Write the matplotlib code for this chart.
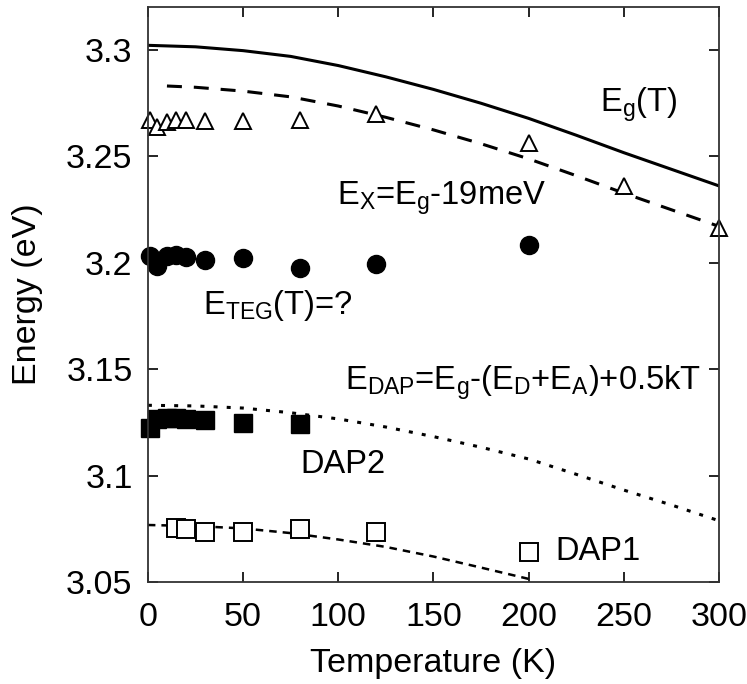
import matplotlib
matplotlib.use("Agg")
import matplotlib.pyplot as plt

plt.rcParams["font.family"] = ["Liberation Sans", "DejaVu Sans"]
plt.rcParams["mathtext.fontset"] = "custom"
plt.rcParams["mathtext.rm"] = "Liberation Sans"
plt.rcParams["mathtext.it"] = "Liberation Sans"
plt.rcParams["mathtext.default"] = "regular"

# measured points
t_x = [1, 5, 10, 15, 20, 30, 50, 80, 120, 200, 250, 300]
e_x = [3.2668, 3.2635, 3.266, 3.2668, 3.2668, 3.2665, 3.2665, 3.2668, 3.2696, 3.256, 3.236, 3.216]

t_teg = [1, 5, 10, 15, 20, 30, 50, 80, 120, 200]
e_teg = [3.2033, 3.1985, 3.203, 3.2035, 3.2028, 3.2012, 3.2022, 3.1975, 3.1993, 3.2082]

t_dap2 = [1, 5, 10, 15, 20, 30, 50, 80]
e_dap2 = [3.1225, 3.1265, 3.127, 3.127, 3.1265, 3.126, 3.1248, 3.1243]

t_dap1 = [15, 20, 30, 50, 80, 120, 200]
e_dap1 = [3.0752, 3.0748, 3.0735, 3.0735, 3.0748, 3.0735, 3.0643]

# model curves
t_line = [0, 25, 50, 75, 100, 125, 150, 175, 200, 225, 250, 275, 300]
eg_line = [3.302, 3.3013, 3.2995, 3.2968, 3.2925, 3.2872, 3.2813, 3.2748, 3.2677, 3.2598, 3.2516, 3.2438, 3.236]
edap2_line = [3.133, 3.1327, 3.1317, 3.1295, 3.1266, 3.1228, 3.1183, 3.1133, 3.1078, 3.1006, 3.0932, 3.0862, 3.0788]

t_ex_line = [10, 25, 50, 75, 100, 125, 150, 175, 200, 225, 250, 275, 300]
ex_line = [3.2829, 3.2823, 3.2805, 3.2778, 3.2735, 3.2682, 3.2623, 3.2558, 3.2487, 3.2408, 3.2326, 3.2248, 3.217]

t_dap1_line = [0, 25, 50, 75, 100, 125, 150, 175, 200]
edap1_line = [3.0768, 3.0763, 3.0752, 3.073, 3.070, 3.0665, 3.062, 3.0568, 3.0515]

fig = plt.figure(figsize=(7.47, 6.84), dpi=100)
ax = fig.add_axes([0.198, 0.149, 0.7645, 0.8408])

ax.plot(t_line, eg_line, color="black", lw=2.2)
ax.plot(t_ex_line, ex_line, color="black", lw=2.2, dashes=(4.9, 3.9))
ax.plot(t_line, edap2_line, color="black", lw=2.2, dashes=(1.3, 3.0))
ax.plot(t_dap1_line, edap1_line, color="black", lw=1.8, dashes=(3.0, 2.4))

ax.plot(t_x, e_x, ls="none", marker="^", ms=11.5, mfc="white", mec="black", mew=1.4, clip_on=False)
ax.plot(t_teg, e_teg, ls="none", marker="o", ms=13, color="black", clip_on=False)
ax.plot(t_dap2, e_dap2, ls="none", marker="s", ms=13, color="black", clip_on=False)
ax.plot(t_dap1, e_dap1, ls="none", marker="s", ms=13, mfc="white", mec="black", mew=1.4, clip_on=False)

fs = 23.5
ax.text(237.5, 3.271, r"$E_{g}\text{(T)}$", fontsize=fs, va="baseline")
ax.text(99.3, 3.2274, r"$E_{X}\text{=}E_{g}\text{-19meV}$", fontsize=fs, va="baseline")
ax.text(28.9, 3.176, r"$E_{TEG}\text{(T)=?}$", fontsize=fs, va="baseline")
ax.text(103.5, 3.1406, r"$E_{DAP}\text{=}E_{g}\text{-(}E_{D}\text{+}E_{A}\text{)+0.5kT}$", fontsize=fs, va="baseline")
ax.text(79.9, 3.101, "DAP2", fontsize=fs, va="baseline")
ax.text(213.9, 3.0604, "DAP1", fontsize=fs, va="baseline")

ax.set_xlim(0, 300)
ax.set_ylim(3.05, 3.32)
ax.set_xticks([0, 50, 100, 150, 200, 250, 300])
ax.set_yticks([3.05, 3.1, 3.15, 3.2, 3.25, 3.3])
ax.set_yticklabels(["3.05", "3.1", "3.15", "3.2", "3.25", "3.3"])
ax.tick_params(direction="in", length=7, width=1.2, top=True, right=True, labelsize=24.5)
ax.tick_params(axis="x", pad=14)
ax.tick_params(axis="y", pad=11)
for spine in ax.spines.values():
    spine.set_linewidth(1.3)
    spine.set_color("#333333")

ax.set_xlabel("Temperature (K)", fontsize=24.5, labelpad=11)
ax.set_ylabel("Energy (eV)", fontsize=24.5, labelpad=17)

fig.savefig("out.png", dpi=100)
